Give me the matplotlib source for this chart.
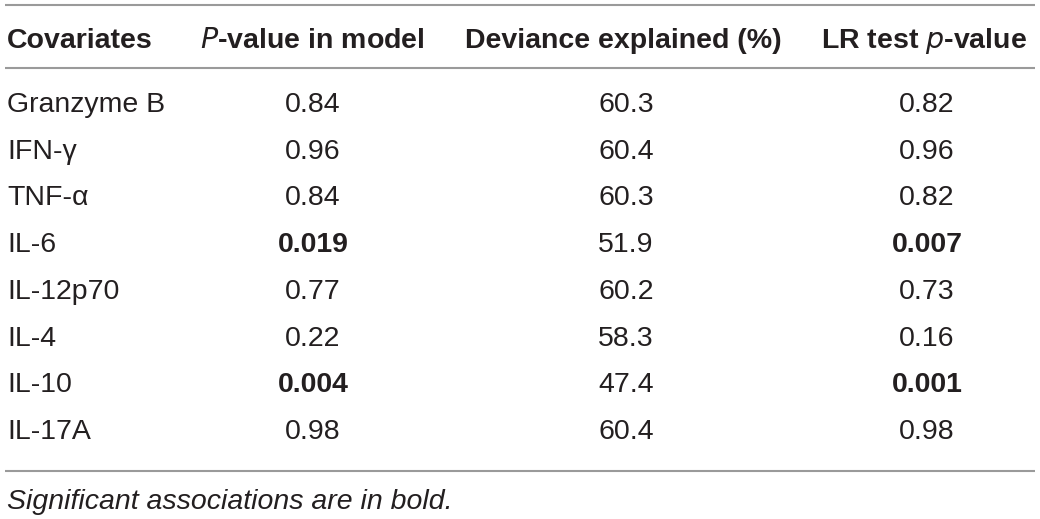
import matplotlib
matplotlib.use("Agg")
import matplotlib.pyplot as plt

covariates = ["Granzyme B", "IFN-\u03b3", "TNF-\u03b1", "IL-6", "IL-12p70", "IL-4", "IL-10", "IL-17A"]
p_model = ["0.84", "0.96", "0.84", "0.019", "0.77", "0.22", "0.004", "0.98"]
deviance = ["60.3", "60.4", "60.3", "51.9", "60.2", "58.3", "47.4", "60.4"]
lr_p = ["0.82", "0.96", "0.82", "0.007", "0.73", "0.16", "0.001", "0.98"]
significant = [False, False, False, True, False, False, True, False]
footnote = "Significant associations are in bold."

W, H = 1040, 519
fig = plt.figure(figsize=(W / 100, H / 100), dpi=100)
ax = fig.add_axes([0, 0, 1, 1])
ax.set_xlim(0, W)
ax.set_ylim(H, 0)
ax.axis("off")

plt.rcParams["font.family"] = ["Liberation Sans", "DejaVu Sans"]
tc = "#231f20"
lc = "#9a9a9a"
fs = 20.5

# rules
for y in (5, 68, 471):
    ax.plot([5, 1035], [y, y], color=lc, lw=1.5, solid_capstyle="butt")

# header
hy = 41
ax.text(7, hy, "Covariates", ha="left", va="center", fontsize=fs, fontweight="bold", color=tc)
ax.text(312, hy, r"$\bf\it{P}$" + "-value in model", ha="center", va="center", fontsize=fs,
        fontweight="bold", color=tc)
ax.text(623, hy, "Deviance explained (%)", ha="center", va="center", fontsize=fs, fontweight="bold", color=tc)
ax.text(924, hy, r"LR test $\bf\it{p}$" + "-value", ha="center", va="center", fontsize=fs,
        fontweight="bold", color=tc)

row0, dy = 105, 46.7
for i, cov in enumerate(covariates):
    y = row0 + i * dy
    w = "bold" if significant[i] else "normal"
    ax.text(7, y, cov, ha="left", va="center", fontsize=fs, color=tc)
    ax.text(313, y, p_model[i], ha="center", va="center", fontsize=fs, color=tc, fontweight=w)
    ax.text(626, y, deviance[i], ha="center", va="center", fontsize=fs, color=tc)
    ax.text(927, y, lr_p[i], ha="center", va="center", fontsize=fs, color=tc, fontweight=w)

ax.text(7, 502, footnote, ha="left", va="center", fontsize=fs, style="italic", color=tc)

fig.savefig("out.png", dpi=100)
